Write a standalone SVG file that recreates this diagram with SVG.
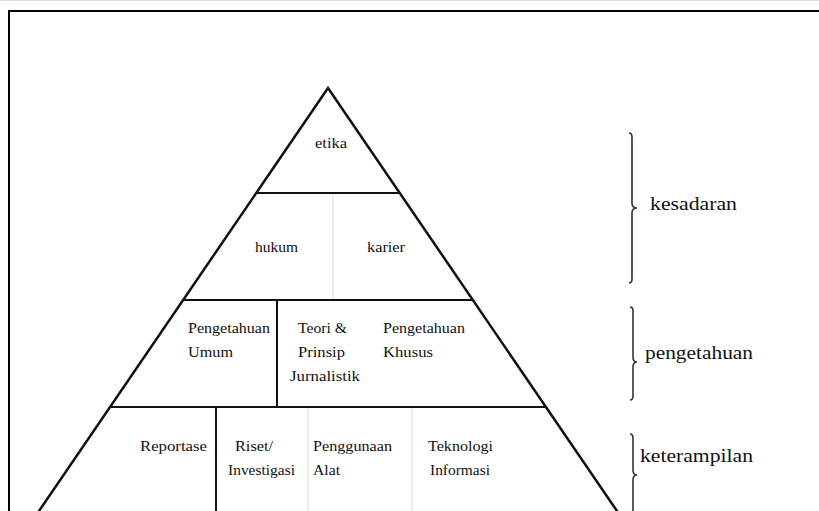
<svg xmlns="http://www.w3.org/2000/svg" width="819" height="511" viewBox="0 0 819 511">
<style>
.frame{fill:none;stroke:#000;stroke-width:2}
.edge{fill:none;stroke:#111;stroke-width:2.5;stroke-linecap:round}
.hl{stroke:#111;stroke-width:2.2}
.vd{stroke:#111;stroke-width:2}
.vl{stroke:#e2e2e2;stroke-width:1.2}
.brace{fill:none;stroke:#333;stroke-width:1.6}
.t{font-family:"Liberation Serif","Times New Roman",serif;font-size:14px;fill:#111}
.r{font-family:"Liberation Serif","Times New Roman",serif;font-size:18px;fill:#111}
</style>
<rect width="819" height="511" fill="#fff"/>
<line x1="0" y1="0.5" x2="819" y2="0.5" stroke="#ddd" stroke-width="1"/>
<path class="frame" d="M9 520 V11 H830"/>
<g id="pyramid">
<path class="edge" d="M39 511 L328 88 L617 511"/>
<line class="hl" x1="256" y1="193" x2="400" y2="193"/>
<line class="hl" x1="183" y1="300" x2="473" y2="300"/>
<line class="hl" x1="110" y1="407" x2="546" y2="407"/>
<line class="vl" x1="333" y1="194" x2="333" y2="299"/>
<line class="vd" x1="277" y1="301" x2="277" y2="406"/>
<line class="vd" x1="216" y1="408" x2="216" y2="511"/>
<line class="vl" x1="308" y1="408" x2="308" y2="511"/>
<line class="vl" x1="412" y1="408" x2="412" y2="511"/>
</g>
<g id="etika"><text class="t" x="315" y="148" textLength="32" lengthAdjust="spacingAndGlyphs">etika</text></g>
<g id="hukum"><text class="t" x="255" y="252" textLength="43" lengthAdjust="spacingAndGlyphs">hukum</text></g>
<g id="karier"><text class="t" x="367" y="252" textLength="38" lengthAdjust="spacingAndGlyphs">karier</text></g>
<g id="pengetahuan-umum">
<text class="t" x="188" y="333" textLength="82" lengthAdjust="spacingAndGlyphs">Pengetahuan</text>
<text class="t" x="188" y="357" textLength="45" lengthAdjust="spacingAndGlyphs">Umum</text>
</g>
<g id="teori-prinsip">
<text class="t" x="298" y="333" textLength="49" lengthAdjust="spacingAndGlyphs">Teori &amp;</text>
<text class="t" x="298" y="357" textLength="47" lengthAdjust="spacingAndGlyphs">Prinsip</text>
<text class="t" x="290" y="381" textLength="70" lengthAdjust="spacingAndGlyphs">Jurnalistik</text>
</g>
<g id="pengetahuan-khusus">
<text class="t" x="383" y="333" textLength="82" lengthAdjust="spacingAndGlyphs">Pengetahuan</text>
<text class="t" x="383" y="357" textLength="50" lengthAdjust="spacingAndGlyphs">Khusus</text>
</g>
<g id="reportase"><text class="t" x="140" y="451" textLength="67" lengthAdjust="spacingAndGlyphs">Reportase</text></g>
<g id="riset">
<text class="t" x="235" y="451" textLength="38" lengthAdjust="spacingAndGlyphs">Riset/</text>
<text class="t" x="228" y="475" textLength="67" lengthAdjust="spacingAndGlyphs">Investigasi</text>
</g>
<g id="penggunaan-alat">
<text class="t" x="313" y="451" textLength="79" lengthAdjust="spacingAndGlyphs">Penggunaan</text>
<text class="t" x="313" y="475" textLength="27" lengthAdjust="spacingAndGlyphs">Alat</text>
</g>
<g id="teknologi-informasi">
<text class="t" x="428" y="451" textLength="65" lengthAdjust="spacingAndGlyphs">Teknologi</text>
<text class="t" x="430" y="475" textLength="60" lengthAdjust="spacingAndGlyphs">Informasi</text>
</g>
<g id="connectors">
<path class="brace" d="M629 133 Q632 133 632 137 V203 Q632 208 637 208 Q632 208 632 213 V279 Q632 283 629 283"/>
<path class="brace" d="M630 307 Q633 307 633 311 V357 Q633 362 637 362 Q633 362 633 367 V396 Q633 400 630 400"/>
<path class="brace" d="M630 434 Q633 434 633 438 V470 Q633 475 637 475 Q633 475 633 480 V515"/>
</g>
<g id="kesadaran"><text class="r" x="650" y="210" textLength="87" lengthAdjust="spacingAndGlyphs">kesadaran</text></g>
<g id="pengetahuan"><text class="r" x="645" y="359" textLength="108" lengthAdjust="spacingAndGlyphs">pengetahuan</text></g>
<g id="keterampilan"><text class="r" x="640" y="462" textLength="113" lengthAdjust="spacingAndGlyphs">keterampilan</text></g>
</svg>
